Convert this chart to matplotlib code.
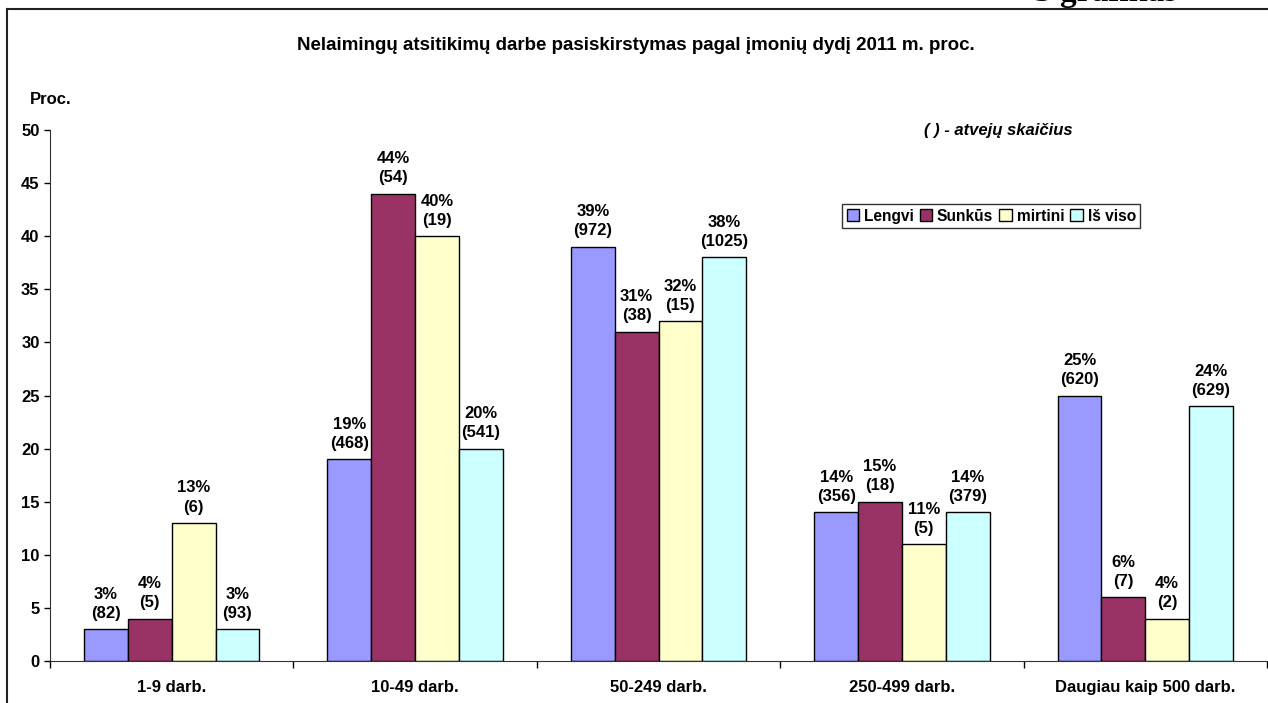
import numpy as np
import matplotlib.pyplot as plt
from matplotlib.lines import Line2D

plt.rcParams['font.family'] = ['Liberation Sans', 'DejaVu Sans']
plt.rcParams['font.weight'] = 'bold'

# data
categories = ["1-9 darb.", "10-49 darb.", "50-249 darb.", "250-499 darb.", "Daugiau kaip 500 darb."]
series_names = ["Lengvi", "Sunkūs", "mirtini", "Iš viso"]
lengvi = [3, 19, 39, 14, 25]
sunkus = [4, 44, 31, 15, 6]
mirtini = [13, 40, 32, 11, 4]
is_viso = [3, 20, 38, 14, 24]
lengvi_n = [82, 468, 972, 356, 620]
sunkus_n = [5, 54, 38, 18, 7]
mirtini_n = [6, 19, 15, 5, 2]
is_viso_n = [93, 541, 1025, 379, 629]

values = [lengvi, sunkus, mirtini, is_viso]
counts = [lengvi_n, sunkus_n, mirtini_n, is_viso_n]
colors = ["#9999FF", "#993366", "#FFFFCC", "#CCFFFF"]

fig = plt.figure(figsize=(12.68, 7.03), dpi=100)
ax = fig.add_axes([50 / 1268, 1 - 661 / 703, 1217 / 1268, (661 - 130) / 703])

x = np.arange(len(categories))
width = 0.18
for i, (vals, cnts) in enumerate(zip(values, counts)):
    pos = x + (i - 1.5) * width
    bars = ax.bar(pos, vals, width, color=colors[i], edgecolor="black",
                  linewidth=1, label=series_names[i], zorder=2)
    for b, v, n in zip(bars, vals, cnts):
        ax.annotate(f"{v}%\n({n})", (b.get_x() + b.get_width() / 2, v),
                    xytext=(0, 6), textcoords="offset points",
                    ha="center", va="bottom", fontsize=12, fontweight="bold",
                    linespacing=1.35,
                    bbox=dict(facecolor="white", edgecolor="none", pad=0.2))

ax.set_xlim(-0.5, len(categories) - 0.5)
ax.set_ylim(0, 50)
ax.set_yticks(np.arange(0, 51, 5))
ax.set_xticks(x)
ax.set_xticklabels(categories, fontsize=12, fontweight="bold")
ax.set_xticks(np.arange(-0.5, len(categories)), minor=True)
ax.tick_params(axis="x", which="major", length=0, pad=14)
ax.tick_params(axis="x", which="minor", length=5, width=1, direction="out")
ax.tick_params(axis="y", length=4, width=1, direction="out", labelsize=12)
for t in ax.get_yticklabels():
    t.set_fontweight("bold")
for s in ["top", "right"]:
    ax.spines[s].set_visible(False)
ax.spines["left"].set_color("#333333")
ax.spines["bottom"].set_color("#333333")

leg = ax.legend(loc="upper left", bbox_to_anchor=(792 / 1217, 1 - 74 / 531), ncol=4,
                frameon=True, fancybox=False, edgecolor="black", fontsize=11.2,
                handlelength=0.8, handleheight=0.8, handletextpad=0.3,
                columnspacing=0.4, borderpad=0.3, borderaxespad=0)
leg.get_frame().set_linewidth(1)
for t in leg.get_texts():
    t.set_fontweight("bold")

fig.text(636 / 1268, 1 - 45 / 703, "Nelaimingų atsitikimų darbe pasiskirstymas pagal įmonių dydį 2011 m. proc.",
         ha="center", va="center", fontsize=13.5, fontweight="bold")
fig.text(30 / 1268, 1 - 100 / 703, "Proc.", ha="left", va="center", fontsize=12, fontweight="bold")
fig.text(1073 / 1268, 1 - 130 / 703, "( ) - atvejų skaičius", ha="right", va="center",
         fontsize=12, fontweight="bold", style="italic")
fig.text(1035 / 1268, 1 - 1 / 703, "3 grafikas", ha="left", va="baseline",
         fontsize=24, fontweight="bold", family="Liberation Serif")

# outer frame (left and top lines)
fig.add_artist(Line2D([7 / 1268, 7 / 1268], [0, 1 - 9 / 703], transform=fig.transFigure,
                      color="#222222", linewidth=1.5))
fig.add_artist(Line2D([7 / 1268, 1], [1 - 9 / 703, 1 - 9 / 703], transform=fig.transFigure,
                      color="#222222", linewidth=1.5))

fig.savefig("out.png", dpi=100)
